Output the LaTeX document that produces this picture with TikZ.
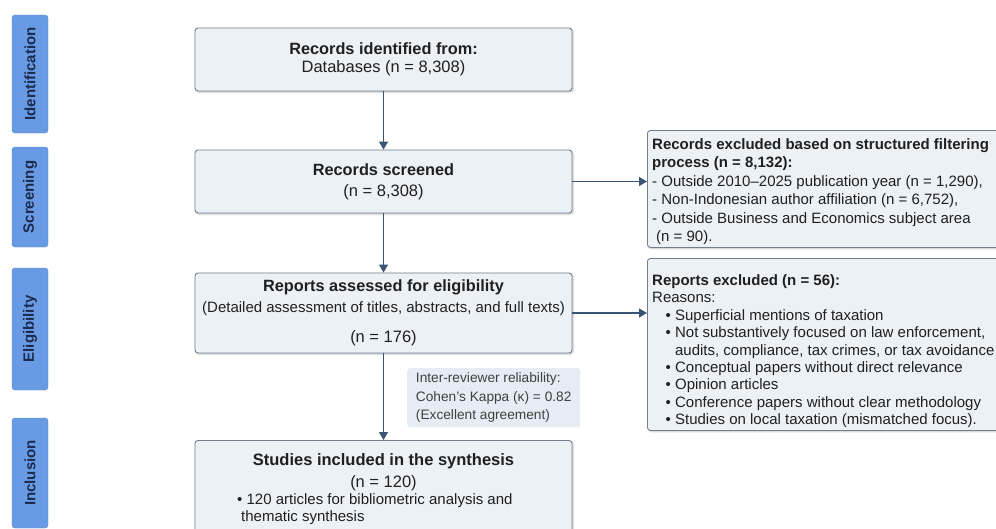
\documentclass[tikz,border=0pt]{standalone}
\usepackage{fontspec}
\setsansfont{Liberation Sans}
\usepackage{tikz}
\usetikzlibrary{arrows.meta, positioning, shadows.blur}
\definecolor{pfBlue}{RGB}{104,155,228}
\definecolor{pfNavy}{RGB}{28,42,78}
\definecolor{pfSlate}{RGB}{112,126,142}
\definecolor{pfFill}{RGB}{236,241,246}
\definecolor{pfNote}{RGB}{229,236,243}
\definecolor{pfArrow}{RGB}{58,84,116}
\definecolor{pfText}{RGB}{32,32,32}

\begin{document}
\begin{tikzpicture}[
    font=\sffamily, x=1pt, y=-1pt, text=pfText,
    phase/.style={draw=pfBlue!85!black, line width=0.4pt, fill=pfBlue,
                  rounded corners=3pt, rotate=90, minimum height=36pt,
                  inner sep=0pt, text=pfNavy,
                  font=\sffamily\bfseries\fontsize{15}{17}\selectfont},
    mainbox/.style={draw=pfSlate, line width=0.9pt, fill=pfFill,
                    rounded corners=3pt, minimum width=377pt, align=center,
                    inner sep=0pt,
                    blur shadow={shadow xshift=1.2pt, shadow yshift=-1.2pt,
                                 shadow blur steps=4, shadow opacity=25},
                    font=\sffamily\fontsize{16.5}{18.5}\selectfont},
    sidebox/.style={mainbox, minimum width=360pt, anchor=north west},
    sidetext/.style={align=left, inner sep=0pt, anchor=base west,
                     font=\sffamily\fontsize{15}{18.4}\selectfont},
    note/.style={fill=pfNote, rounded corners=3pt, align=left,
                 minimum width=173pt, minimum height=59pt, inner sep=0pt,
                 text=black!75, font=\sffamily\fontsize{13.7}{18.3}\selectfont},
    flow/.style={draw=pfArrow, line width=1.3pt,
                 -{Triangle[length=8pt, width=9pt]}}
]
\path[use as bounding box] (0,0) rectangle (996,528);
\clip (0,0) rectangle (996,528);

% Phase labels
\foreach \name/\yc/\len in {Identification/74/118pt, Screening/197/100pt,
                            Eligibility/329/122pt, Inclusion/473/110pt} {
   \node[phase, minimum width=\len] (ph-\name) at (30,\yc) {\name};
}

% Main column
\node[mainbox, minimum height=63pt] (ident) at (383.5,59.5)
     {{\bfseries\fontsize{16.3}{18.5}\selectfont Records identified from:}\\
      Databases (n = 8,308)};
\node[mainbox, minimum height=63pt] (screen) at (383.5,181.5)
     {{\bfseries\fontsize{16.3}{18.5}\selectfont Records screened}\\[2.5pt]
      (n = 8,308)};
\node[mainbox, minimum height=80pt] (elig) at (383.5,313)
     {{\bfseries\fontsize{16.3}{18.5}\selectfont Reports assessed for eligibility}\\[2.5pt]
      {\fontsize{15}{18.5}\selectfont (Detailed assessment of titles, abstracts, and full texts)}\\[11.5pt]
      (n = 176)};
\node[mainbox, minimum height=100pt, anchor=north] (incl) at (383.5,440) {};
% multi-line nodes sit on their last baseline
\node[align=center, inner sep=0pt, anchor=base,
      font=\sffamily\fontsize{16.5}{21.5}\selectfont] (incl-head) at (383.5,487)
     {{\bfseries\fontsize{16.5}{21.5}\selectfont Studies included in the synthesis}\\
      (n = 120)};
\node[sidetext, font=\sffamily\fontsize{15}{17}\selectfont] (incl-list) at (237,521.5)
     {\textbullet\ 120 articles for bibliometric analysis and\\
      \hspace*{4pt}thematic synthesis};

% Reliability note
\node[note, anchor=north west] (kappa) at (407,368)
     {Inter-reviewer reliability:\\
      Cohen’s Kappa (κ) = 0.82\\
      (Excellent agreement)};

% Exclusion boxes
\node[sidebox, minimum height=117pt] (excl1) at (647,130) {};
\node[sidetext] (excl1-txt) at (652,241.5)
     {\textbf{Records excluded based on structured filtering}\\
      \textbf{process (n = 8,132):}\\
      - Outside 2010–2025 publication year (n = 1,290),\\
      - Non-Indonesian author affiliation (n = 6,752),\\
      - Outside Business and Economics subject area\\
      \hspace*{4pt}(n = 90).};
\node[sidebox, minimum height=172pt] (excl2) at (647,258) {};
\node[sidetext, font=\sffamily\fontsize{15}{17.4}\selectfont] (excl2-txt) at (652,424.7)
     {\textbf{Reports excluded (n = 56):}\\
      Reasons:\\
      \hspace*{13.5pt}\textbullet\ Superficial mentions of taxation\\
      \hspace*{13.5pt}\textbullet\ Not substantively focused on law enforcement,\\
      \hspace*{13.5pt}\phantom{\textbullet\ }audits, compliance, tax crimes, or tax avoidance\\
      \hspace*{13.5pt}\textbullet\ Conceptual papers without direct relevance\\
      \hspace*{13.5pt}\textbullet\ Opinion articles\\
      \hspace*{13.5pt}\textbullet\ Conference papers without clear methodology\\
      \hspace*{13.5pt}\textbullet\ Studies on local taxation (mismatched focus).};

% Connectors
\draw[flow] (ident) -- (screen);
\draw[flow] (screen) -- (elig);
\draw[flow] (elig) -- (incl);
\draw[flow] (screen.east) -- (screen.east -| excl1.west);
\draw[flow] (elig.east) -- (elig.east -| excl2.west);
\end{tikzpicture}
\end{document}
